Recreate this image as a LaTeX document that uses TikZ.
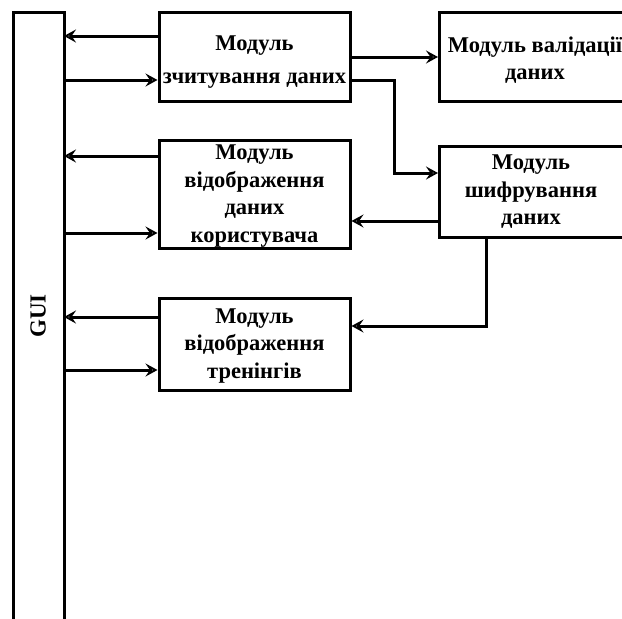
\documentclass[tikz,border=0pt]{standalone}
\usepackage{fontspec}
\setmainfont{Liberation Serif}
\usetikzlibrary{arrows.meta}
\begin{document}
\begin{tikzpicture}[x=1pt,y=-1pt,line width=3pt,
  tip/.style={-{Stealth[open,length=12pt,width=13pt,inset=4.5pt]}},
  lbl/.style={font=\fontsize{22.5}{27.5}\selectfont\bfseries,align=center},
  block/.style={draw,inner sep=0pt,lbl}]
\useasboundingbox (0,0) rectangle (622,619);
\begin{scope}
\clip (0,0) rectangle (622,619);
% GUI column, runs off the bottom edge
\draw (64,640) -- (64,12) -- (13,12) -- (13,640);
\node[rotate=90,font=\fontsize{23}{27}\selectfont\bfseries] (gui) at (38,316) {GUI};
% module blocks
\node[block,minimum width=191pt,minimum height=89pt] (read) at (254.5,56.5) {};
\node[lbl] (readtext) at (254.5,62) {Модуль\\[5pt]зчитування даних};
\node[block,minimum width=230pt,minimum height=89pt,anchor=west] (valid) at (438,56.5) {};
\node[lbl] (validtext) at (535,60) {Модуль валідації\\[-1pt]даних};
\node[block,minimum width=230pt,minimum height=91pt,anchor=west] (enc) at (438,191.5) {};
\node[lbl] (enctext) at (531,192) {Модуль\\шифрування\\даних};
\node[block,minimum width=191pt,minimum height=108pt] (user) at (254.5,194) {};
\node[lbl] (usertext) at (254.5,196) {Модуль\\відображення\\даних\\користувача};
\node[block,minimum width=191pt,minimum height=92pt] (train) at (254.5,344) {};
\node[lbl] (traintext) at (254.5,346) {Модуль\\відображення\\тренінгів};
% connectors between GUI and modules
\draw[tip] (read.west |- 0,36) -- (64,36);
\draw[tip] (64,80) -- (read.west |- 0,80);
\draw[tip] (user.west |- 0,156) -- (64,156);
\draw[tip] (64,233) -- (user.west |- 0,233);
\draw[tip] (train.west |- 0,317) -- (64,317);
\draw[tip] (64,370) -- (train.west |- 0,370);
% connectors between modules
\draw[tip] (read.east |- 0,57) -- (valid.west |- 0,57);
\draw[tip] (read.east |- 0,80) -- (394,80) -- (394,173) -- (enc.west |- 0,173);
\draw[tip] (enc.west |- 0,221) -- (user.east |- 0,221);
\draw[tip] (enc.south -| 486,0) -- (486,326) -- (train.east |- 0,326);
\end{scope}
\end{tikzpicture}
\end{document}
